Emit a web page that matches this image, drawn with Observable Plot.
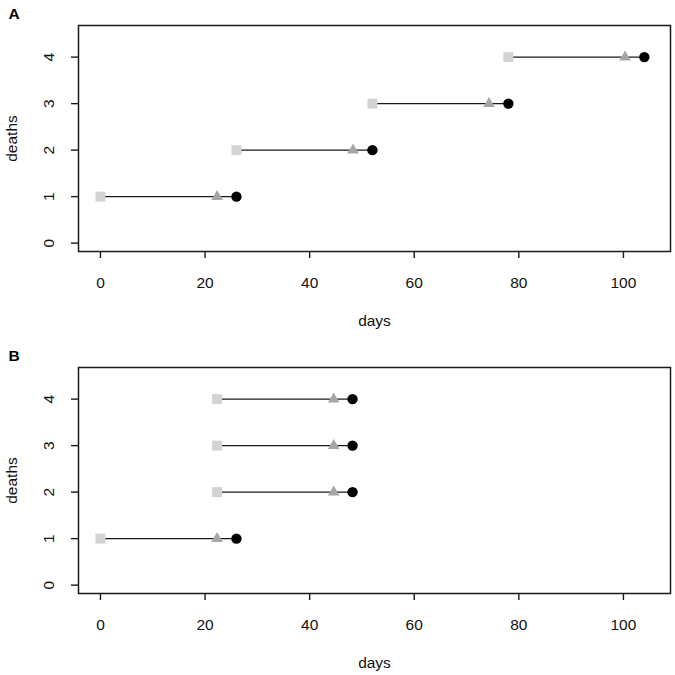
<!DOCTYPE html>
<html>
<head>
<meta charset="utf-8">
<script src="https://cdn.jsdelivr.net/npm/d3@7"></script>
<script src="https://cdn.jsdelivr.net/npm/@observablehq/plot@0.6"></script>
<style>
  body { margin: 0; background: #fff; }
  #wrap { width: 675px; }
  svg { display: block; }
</style>
</head>
<body>
<div id="wrap"></div>
<script>
// Panel A
const deathsA = [1, 2, 3, 4];
const startA  = [0, 26, 52, 78];
const triA    = [22.3, 48.3, 74.3, 100.3];
const endA    = [26, 52, 78, 104];
// Panel B
const deathsB = [1, 2, 3, 4];
const startB  = [0, 22.3, 22.3, 22.3];
const triB    = [22.3, 44.6, 44.6, 44.6];
const endB    = [26, 48.2, 48.2, 48.2];
// Axes
const xTicks = [0, 20, 40, 60, 80, 100];
const yTicks = [0, 1, 2, 3, 4];

const FS = 15.5;

function panel(letter, deaths, start, tri, end, height, mTop, mBottom) {
  const rows = deaths.map((d, i) => ({d, s: start[i], t: tri[i], e: end[i]}));
  return Plot.plot({
    width: 675, height,
    marginLeft: 78, marginRight: 5, marginTop: mTop, marginBottom: mBottom,
    style: {fontFamily: "'Liberation Sans', Arial, Helvetica, sans-serif", fontSize: FS + "px", color: "#000", background: "#fff"},
    x: {domain: [-4.2, 109]},
    y: {domain: [-0.18, 4.68]},
    marks: [
      Plot.axisX({ticks: xTicks, tickSize: 7, tickPadding: 18, tickFormat: d3.format("d"), label: null, stroke: "#1a1a1a", strokeWidth: 1.4, fontSize: FS, fill: "#111"}),
      Plot.axisY({ticks: yTicks, tickSize: 7, tickPadding: 18, tickRotate: -90, tickFormat: d3.format("d"), label: null, stroke: "#1a1a1a", strokeWidth: 1.4, fontSize: FS, fill: "#111"}),
      Plot.frame({stroke: "#1a1a1a", strokeWidth: 1.5}),
      Plot.link(rows, {x1: "s", x2: "e", y1: "d", y2: "d", stroke: "#1a1a1a", strokeWidth: 1.4}),
      Plot.dot(rows, {x: "s", y: "d", symbol: "square", r: 5.6, fill: "#d3d3d3", stroke: "none"}),
      Plot.dot(rows, {x: "t", y: "d", symbol: "triangle", r: 4.3, fill: "#a6a6a6", stroke: "none"}),
      Plot.dot(rows, {x: "e", y: "d", symbol: "circle", r: 5.2, fill: "#000", stroke: "none"}),
      Plot.text(["days"], {frameAnchor: "bottom", dy: 70, lineAnchor: "middle", textAnchor: "middle", fill: "#111", fontSize: FS}),
      Plot.text(["deaths"], {frameAnchor: "left", dx: -66, rotate: -90, textAnchor: "middle", lineAnchor: "middle", fill: "#111", fontSize: FS}),
      Plot.text([letter], {frameAnchor: "top-left", dx: -70, dy: -18, fontWeight: "bold", fontSize: 15.5, textAnchor: "start", lineAnchor: "top", fill: "#000"})
    ]
  });
}

const wrap = document.getElementById("wrap");
wrap.appendChild(panel("A", deathsA, startA, triA, endA, 337, 25, 86));
wrap.appendChild(panel("B", deathsB, startB, triB, endB, 338, 30, 82));
</script>
</body>
</html>
